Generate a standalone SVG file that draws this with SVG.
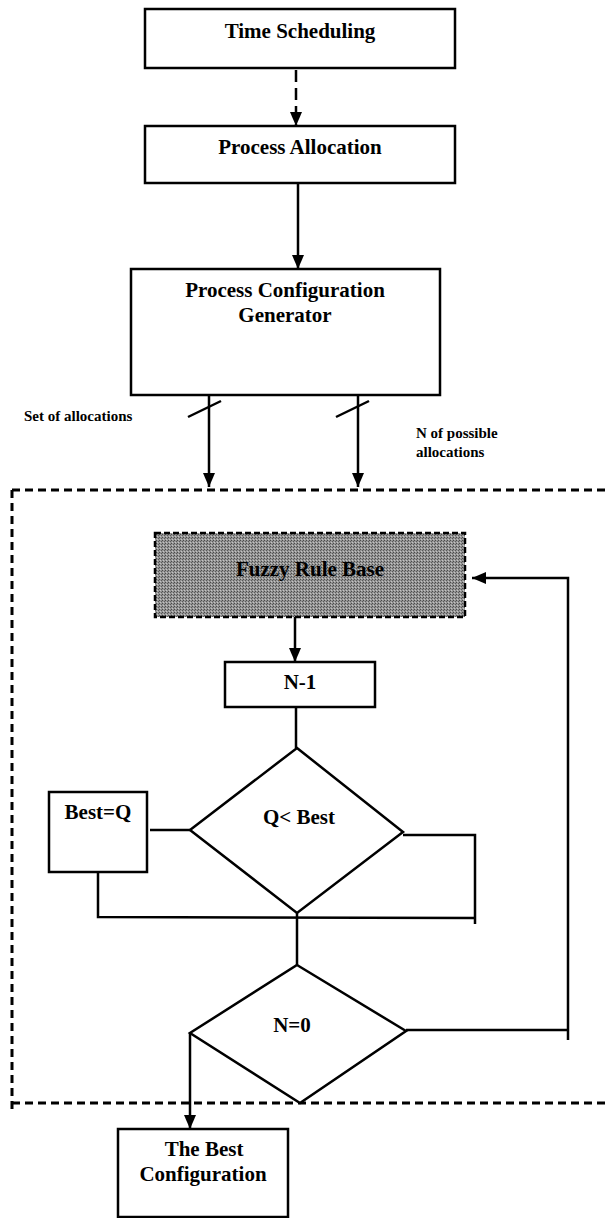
<svg xmlns="http://www.w3.org/2000/svg" width="608" height="1218" viewBox="0 0 608 1218">
<style>
.box{fill:#fff;stroke:#000;stroke-width:2.5}
.lbl{font-family:"Liberation Serif","Times New Roman",serif;font-weight:bold;font-size:21px;fill:#000;text-anchor:middle}
.sm{font-family:"Liberation Serif","Times New Roman",serif;font-weight:bold;font-size:15px;fill:#000}
.ln{fill:none;stroke:#000;stroke-width:2.5}
.dash{fill:none;stroke:#000;stroke-width:3;stroke-dasharray:8 5}
</style>
<defs>
<marker id="ah" viewBox="0 0 14 12" refX="14" refY="6" markerWidth="14" markerHeight="12" markerUnits="userSpaceOnUse" orient="auto">
<path d="M0,0 L14,6 L0,12 Z" fill="#000"/>
</marker>
<pattern id="dither" width="3" height="3" patternUnits="userSpaceOnUse">
<rect width="3" height="3" fill="#959595"/>
<rect width="1" height="1" fill="#4a4a4a"/>
<rect x="2" y="1" width="1" height="1" fill="#5a5a5a"/>
<rect x="1" y="2" width="1" height="1" fill="#c4c4c4"/>
</pattern>
</defs>

<g id="boundary">
<path class="dash" d="M12,490 H608 M12,490 V1112 M12,1103 H608"/>
</g>

<g id="connectors">
<line x1="296" y1="70" x2="296" y2="126" class="ln" stroke-dasharray="12 6" marker-end="url(#ah)"/>
<line x1="298" y1="183" x2="298" y2="269" class="ln" marker-end="url(#ah)"/>
<line x1="209" y1="395" x2="209" y2="487" class="ln" marker-end="url(#ah)"/>
<line x1="188" y1="417" x2="221" y2="401" class="ln"/>
<line x1="358" y1="395" x2="358" y2="487" class="ln" marker-end="url(#ah)"/>
<line x1="336" y1="417" x2="369" y2="401" class="ln"/>
<line x1="295" y1="617" x2="295" y2="662" class="ln" marker-end="url(#ah)"/>
<line x1="296" y1="707" x2="296" y2="748" class="ln"/>
<line x1="150" y1="830" x2="190" y2="830" class="ln"/>
<polyline points="403,835 475,835 475,924" class="ln"/>
<polyline points="98,872 98,917 476,918" class="ln"/>
<line x1="297" y1="913" x2="297" y2="965" class="ln"/>
<polyline points="406,1030 568,1030" class="ln"/>
<polyline points="568,1040 568,578 472,578" class="ln" marker-end="url(#ah)"/>
<line x1="190" y1="1033" x2="190" y2="1129" class="ln" marker-end="url(#ah)"/>
</g>

<g id="time-scheduling">
<rect x="145" y="9" width="310" height="59" class="box"/>
<text x="300" y="38" class="lbl">Time Scheduling</text>
</g>

<g id="process-allocation">
<rect x="145" y="126" width="310" height="57" class="box"/>
<text x="300" y="154" class="lbl">Process Allocation</text>
</g>

<g id="pcg">
<rect x="131" y="269" width="309" height="126" class="box"/>
<text x="285" y="297" class="lbl">Process Configuration</text>
<text x="285" y="322" class="lbl">Generator</text>
</g>

<g id="labels">
<text x="24" y="421" class="sm">Set of allocations</text>
<text x="416" y="438" class="sm">N of possible</text>
<text x="416" y="457" class="sm">allocations</text>
</g>

<g id="fuzzy-rule-base">
<rect x="155" y="533" width="310" height="84" fill="url(#dither)" stroke="#000" stroke-width="2.5" stroke-dasharray="6 3"/>
<text x="310" y="576" class="lbl" fill="#111">Fuzzy Rule Base</text>
</g>

<g id="n-minus-1">
<rect x="225" y="662" width="150" height="45" class="box"/>
<text x="300" y="689" class="lbl">N-1</text>
</g>

<g id="q-less-best">
<polygon points="297,748 403,832 297,913 190,830" class="box"/>
<text x="299" y="824" class="lbl">Q&lt; Best</text>
</g>

<g id="best-eq-q">
<rect x="49" y="792" width="98" height="80" class="box"/>
<text x="98" y="819" class="lbl">Best=Q</text>
</g>

<g id="n-eq-0">
<polygon points="297,965 406,1031 300,1103 190,1033" class="box"/>
<text x="292" y="1032" class="lbl">N=0</text>
</g>

<g id="best-configuration">
<rect x="118" y="1129" width="170" height="88" class="box"/>
<text x="204" y="1156" class="lbl">The Best</text>
<text x="203" y="1181" class="lbl">Configuration</text>
</g>
</svg>
